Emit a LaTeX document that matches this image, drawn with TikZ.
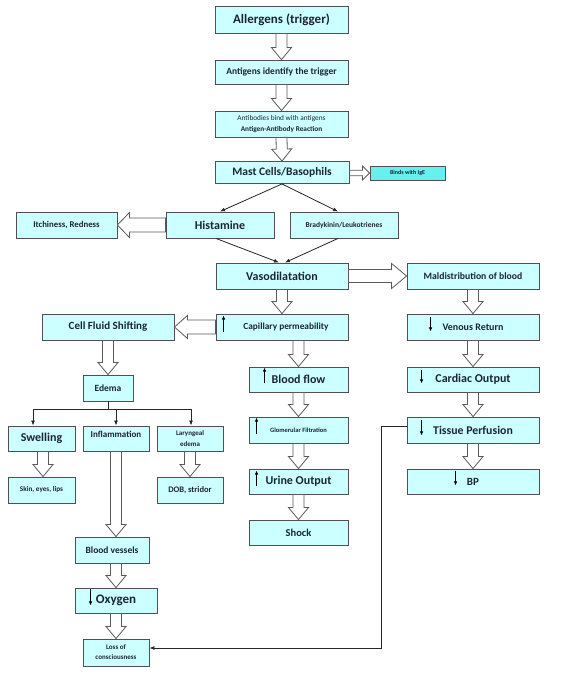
\documentclass[tikz,border=0pt]{standalone}
\usepackage{fontspec}
\setmainfont{Carlito}
\usetikzlibrary{calc,arrows.meta}
\definecolor{boxfill}{HTML}{CCFFFF}
\definecolor{igefill}{HTML}{66F0F0}
\definecolor{boxline}{HTML}{505050}
\definecolor{txt}{HTML}{1A2533}
\definecolor{arrline}{HTML}{5A5A5A}
\newcommand\fs[2][]{\fontsize{#2}{\ifx\relax#1\relax#2\else#1\fi}\selectfont}
\tikzset{
 box/.style={draw=boxline, line width=0.9pt, fill=boxfill, inner sep=1pt, align=center, text=txt, font=\bfseries},
 bx/.style 2 args={minimum width=#1pt, minimum height=#2pt},
 f/.style={font=\bfseries\fontsize{#1}{#1}\selectfont},
 fl/.style 2 args={font=\bfseries\fontsize{#1}{#2}\selectfont},
 blockstyle/.style={draw=arrline, line width=0.8pt, fill=white, line join=miter},
 thinarr/.style={draw=black!85, line width=0.8pt, -{Latex[length=5pt,width=4pt]}},
 plainline/.style={draw=black!85, line width=0.8pt},
 minarr/.style={draw=black, line width=0.8pt, -{Latex[length=4pt,width=3.5pt]}},
}
\newcommand\blockarr[5]{%
 \coordinate (bas) at (#1); \coordinate (bat) at (#2);
 \coordinate (bah) at ($(bat)!#5!(bas)$);
 \draw[blockstyle] ($(bas)!#3!90:(bat)$) -- ($(bah)!#3!90:(bat)$) -- ($(bah)!#4!90:(bat)$) -- (bat) -- ($(bah)!#4!-90:(bat)$) -- ($(bah)!#3!-90:(bat)$) -- ($(bas)!#3!-90:(bat)$) -- cycle;
}
\newcommand\varr[2]{\blockarr{#1}{#2}{5.5pt}{10pt}{12pt}}
\begin{document}
\begin{tikzpicture}[x=1pt,y=-1pt]
\fill[white] (0,0) rectangle (560,682);
\useasboundingbox (0,0) rectangle (560,682);

% top chain
\node[box,bx={133}{27},f=13] (all) at (281.5,19.5) {Allergens (trigger)};
\node[box,bx={133}{24},f=9.5] (antig) at (281.5,72) {Antigens identify the trigger};
\node[box,bx={133}{26},fl={7.3}{11}] (antib) at (281.5,124) {\mdseries Antibodies bind with antigens\\Antigen-Antibody Reaction};
\node[box,bx={134}{22},f=11.5] (mast) at (282,172.5) {Mast Cells/Basophils};
\node[box,bx={75}{14},fill=igefill,f=6] (ige) at (407.5,173) {Binds with IgE};

\node[box,bx={101}{26},f=8.8] (itch) at (66.5,225) {Itchiness, Redness};
\node[box,bx={108}{26},f=12] (hist) at (220,225) {Histamine};
\node[box,bx={108}{26},f=7.5] (brady) at (344,225) {Bradykinin/Leukotrienes};

\node[box,bx={132}{26},f=12] (vaso) at (282,276) {Vasodilatation};
\node[box,bx={132}{26},f=9.7] (mald) at (473,276) {Maldistribution of blood};

\node[box,bx={132}{26},f=11] (cfs) at (108,327) {Cell Fluid Shifting};
\node[box,bx={132}{26},f=9.3] (cap) at (282,327) {\hspace*{8pt}Capillary permeability};
\node[box,bx={132}{26},f=10] (venous) at (473,327) {Venous Return};

% left branch
\node[box,bx={50}{26},f=9.5] (edema) at (108,388) {Edema};
\node[box,bx={67}{25},f=12] (swell) at (41.5,438.5) {Swelling};
\node[box,bx={66}{25},fl={9}{8}] (infl) at (116,438.5) {Inflammation\\\mbox{}};
\node[box,bx={66}{25},fl={7}{10.5}] (lary) at (190,438.5) {Laryngeal\\edema};
\node[box,bx={67}{26},f=7.2] (skin) at (41.5,490) {Skin, eyes, lips};
\node[box,bx={66}{26},f=8.5] (dob) at (190,490) {DOB, stridor};
\node[box,bx={74}{26},f=9.5] (bves) at (112,550) {Blood vessels};
\node[box,bx={82}{25},f=13] (oxy) at (116,600.5) {Oxygen};
\node[box,bx={66}{27},fl={7}{10}] (loss) at (116,652.5) {Loss of\\consciousness};

% middle chain
\node[box,bx={99}{25},f=12] (bflow) at (298.5,379.5) {Blood flow};
\node[box,bx={99}{26},f=6.5] (glom) at (298.5,430) {Glomerular Filtration};
\node[box,bx={99}{25},f=12] (urine) at (298.5,481.5) {Urine Output};
\node[box,bx={99}{25},f=10.5] (shock) at (298.5,532.5) {Shock};

% right chain
\node[box,bx={132}{25},f=12] (cardiac) at (473,379.5) {Cardiac Output};
\node[box,bx={132}{26},f=11.8] (tissue) at (473,430) {Tissue Perfusion};
\node[box,bx={132}{25},f=11] (bp) at (473,481.5) {BP};

% block arrows
\varr{all.south}{antig.north}
\varr{antig.south}{antib.north}
\varr{antib.south}{mast.north}
\blockarr{mast.east |- ige.west}{ige.west}{2.8pt}{7pt}{7pt}
\blockarr{hist.west}{itch.east}{7pt}{12.5pt}{12pt}
\blockarr{vaso.east}{mald.west}{6.5pt}{12.5pt}{15pt}
\blockarr{cap.west}{cfs.east}{7pt}{11.5pt}{13pt}
\varr{vaso.south}{cap.north}
\varr{[xshift=16.5pt]cap.south}{bflow.north}
\varr{bflow.south}{glom.north}
\varr{glom.south}{urine.north}
\varr{urine.south}{shock.north}
\varr{mald.south}{venous.north}
\varr{venous.south}{cardiac.north}
\varr{cardiac.south}{tissue.north}
\varr{tissue.south}{bp.north}
\varr{cfs.south}{edema.north}
\varr{[xshift=1.5pt]swell.south}{[xshift=1.5pt]skin.north}
\varr{lary.south}{dob.north}
\varr{infl.south}{[xshift=4pt]bves.north}
\varr{[xshift=4pt]bves.south}{oxy.north}
\varr{oxy.south}{loss.north}

% thin connectors
\draw[thinarr] (mast.south) -- (hist.north);
\draw[thinarr] (mast.south) -- ([xshift=-6pt]brady.north);
\draw[thinarr] ([xshift=-4pt]hist.south) -- ([xshift=-3pt]vaso.north);
\draw[thinarr] ([xshift=-6pt]brady.south) -- ([xshift=3pt]vaso.north);

\coordinate (bar) at (108,409);
\draw[plainline] (edema.south) -- (bar);
\draw[plainline] ([xshift=-8.5pt]swell.north |- bar) -- ([xshift=1pt]lary.north |- bar);
\draw[thinarr] ([xshift=-8.5pt]swell.north |- bar) -- ([xshift=-8.5pt]swell.north);
\draw[thinarr] (infl.north |- bar) -- (infl.north);
\draw[thinarr] ([xshift=1pt]lary.north |- bar) -- ([xshift=1pt]lary.north);

\draw[thinarr] ([yshift=4pt]tissue.west) -- ++(-25,0) |- ([yshift=4.5pt]loss.east);

% small up/down arrows inside boxes
\draw[minarr] ([xshift=8pt,yshift=8pt]cap.south west) -- ([xshift=8pt,yshift=-2pt]cap.north west);
\draw[minarr] ([xshift=16pt,yshift=9pt]bflow.south west) -- ([xshift=16pt,yshift=-1pt]bflow.north west);
\draw[minarr] ([xshift=8pt,yshift=9pt]glom.south west) -- ([xshift=8pt,yshift=-1pt]glom.north west);
\draw[minarr] ([xshift=8pt,yshift=8pt]urine.south west) -- ([xshift=8pt,yshift=-2pt]urine.north west);
\draw[minarr] ([xshift=24pt,yshift=-3pt]venous.north west) -- ([xshift=24pt,yshift=9pt]venous.south west);
\draw[minarr] ([xshift=15pt,yshift=-3pt]cardiac.north west) -- ([xshift=15pt,yshift=9pt]cardiac.south west);
\draw[minarr] ([xshift=15pt,yshift=-3pt]tissue.north west) -- ([xshift=15pt,yshift=8pt]tissue.south west);
\draw[minarr] ([xshift=49pt,yshift=-2pt]bp.north west) -- ([xshift=49pt,yshift=9pt]bp.south west);
\draw[minarr] ([xshift=16pt,yshift=-1pt]oxy.north west) -- ([xshift=16pt,yshift=8pt]oxy.south west);
\end{tikzpicture}
\end{document}
